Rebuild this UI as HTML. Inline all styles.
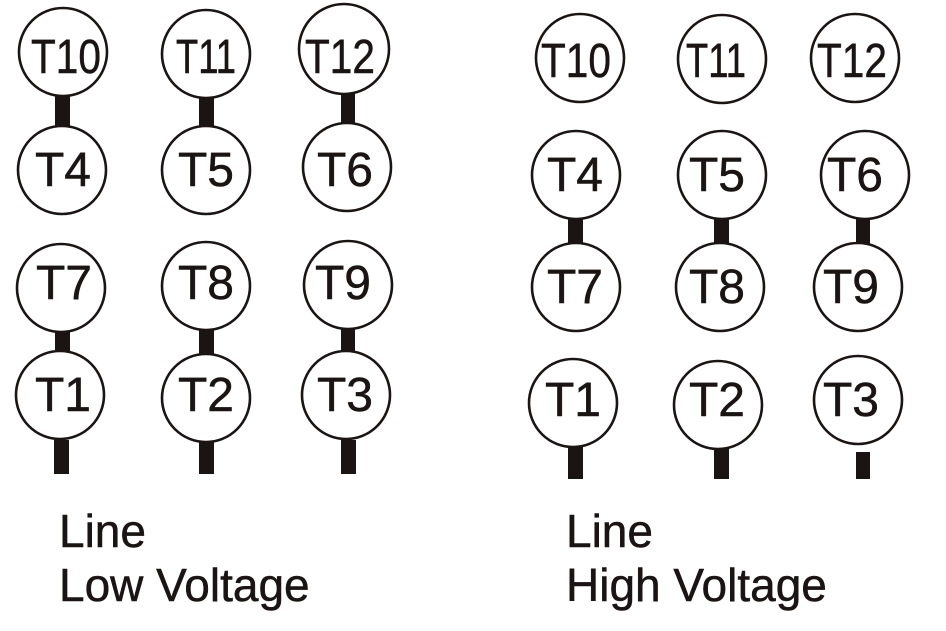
<!DOCTYPE html>
<html><head><meta charset="utf-8"><style>
html,body{margin:0;padding:0;background:#fff;}
svg{display:block;}
text{font-family:"Liberation Sans",Arial,sans-serif;fill:#1a1414;stroke:#1a1414;stroke-width:0.5;}
</style></head><body>
<svg width="946" height="631" viewBox="0 0 946 631" xmlns="http://www.w3.org/2000/svg">
<g fill="#1a1414">
<rect x="55" y="92" width="15" height="36"/>
<rect x="199" y="92" width="15" height="36"/>
<rect x="341" y="92" width="14" height="33"/>
<rect x="55" y="330" width="15" height="24"/>
<rect x="199" y="330" width="15" height="26"/>
<rect x="341" y="328" width="14" height="25"/>
<rect x="54" y="440" width="15" height="34"/>
<rect x="199" y="440" width="15" height="34"/>
<rect x="341" y="440" width="15" height="34"/>
<rect x="568" y="216" width="15" height="32"/>
<rect x="714" y="216" width="15" height="30"/>
<rect x="856" y="218" width="14" height="28"/>
<rect x="568" y="443" width="15" height="36"/>
<rect x="714" y="443" width="15" height="36"/>
<rect x="856" y="452" width="14" height="27"/>
</g>
<g fill="#fff" stroke="#1a1414" stroke-width="2.6">
<circle cx="63" cy="52" r="44"/>
<circle cx="206" cy="54" r="44"/>
<circle cx="344" cy="49" r="45"/>
<circle cx="62" cy="170" r="44"/>
<circle cx="206" cy="170" r="44"/>
<circle cx="347" cy="167" r="44"/>
<circle cx="61" cy="288" r="44"/>
<circle cx="206" cy="286" r="44"/>
<circle cx="348" cy="285" r="44"/>
<circle cx="60" cy="395" r="44"/>
<circle cx="206" cy="398" r="44"/>
<circle cx="346" cy="395" r="44"/>
<circle cx="580" cy="58" r="44"/>
<circle cx="722" cy="59" r="44"/>
<circle cx="855" cy="58" r="44"/>
<circle cx="576" cy="175" r="44"/>
<circle cx="722" cy="175" r="44"/>
<circle cx="865" cy="175" r="44"/>
<circle cx="576" cy="287" r="44"/>
<circle cx="720" cy="287" r="44"/>
<circle cx="858" cy="287" r="44"/>
<circle cx="573" cy="403" r="44"/>
<circle cx="718" cy="405" r="44"/>
<circle cx="858" cy="400" r="44"/>
</g>
<g font-size="48" text-anchor="middle">
<text x="66" y="73" textLength="70" lengthAdjust="spacingAndGlyphs">T10</text>
<text x="206" y="73" textLength="60" lengthAdjust="spacingAndGlyphs">T11</text>
<text x="340" y="73" textLength="70" lengthAdjust="spacingAndGlyphs">T12</text>
<text x="63" y="186">T4</text>
<text x="206" y="186">T5</text>
<text x="345" y="186">T6</text>
<text x="64" y="299">T7</text>
<text x="206" y="299">T8</text>
<text x="343" y="299">T9</text>
<text x="63" y="411">T1</text>
<text x="206" y="411">T2</text>
<text x="345" y="411">T3</text>
<text x="576" y="77" textLength="70" lengthAdjust="spacingAndGlyphs">T10</text>
<text x="716" y="77" textLength="60" lengthAdjust="spacingAndGlyphs">T11</text>
<text x="852" y="77" textLength="70" lengthAdjust="spacingAndGlyphs">T12</text>
<text x="575" y="191">T4</text>
<text x="717" y="191">T5</text>
<text x="855" y="191">T6</text>
<text x="575" y="303">T7</text>
<text x="717" y="303">T8</text>
<text x="851" y="303">T9</text>
<text x="573" y="416">T1</text>
<text x="717" y="416">T2</text>
<text x="851" y="416">T3</text>
</g>
<g font-size="46" style="stroke-width:0.3">
<text x="59" y="547">Line</text>
<text x="59" y="601">Low Voltage</text>
<text x="566" y="547">Line</text>
<text x="566" y="601">High Voltage</text>
</g>
</svg>
</body></html>
